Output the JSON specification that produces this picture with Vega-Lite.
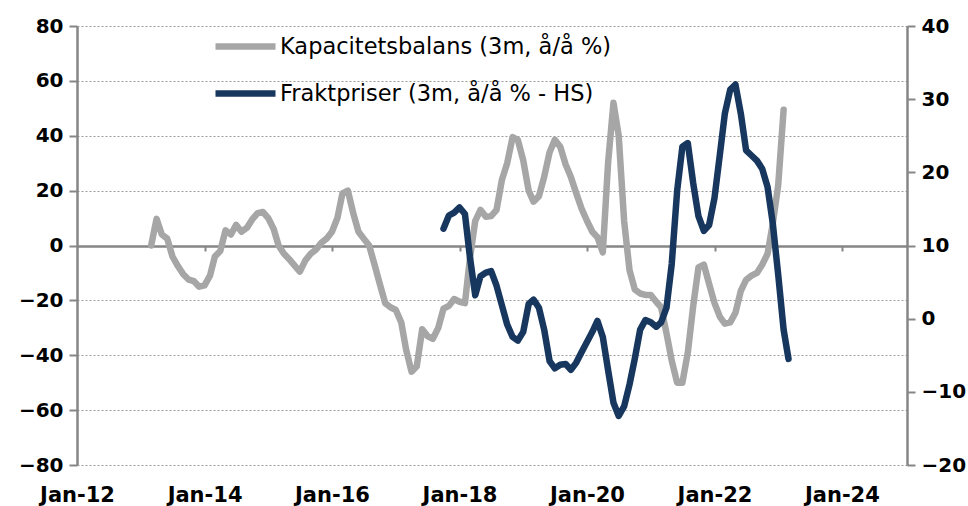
{
  "$schema": "https://vega.github.io/schema/vega-lite/v6.json",
  "autosize": {"type": "none"},
  "width": 830,
  "height": 439,
  "padding": {"left": 77, "top": 26, "right": 61, "bottom": 41},
  "background": "white",
  "config": {"view": {"stroke": null}, "font": "DejaVu Sans"},
  "datasets": {
    "kap": [
      {"date": "2013-03-01", "value": 0, "serie": "Kapacitetsbalans (3m, å/å %)"},
      {"date": "2013-04-01", "value": 9.7, "serie": "Kapacitetsbalans (3m, å/å %)"},
      {"date": "2013-05-01", "value": 4, "serie": "Kapacitetsbalans (3m, å/å %)"},
      {"date": "2013-06-01", "value": 2.5, "serie": "Kapacitetsbalans (3m, å/å %)"},
      {"date": "2013-07-01", "value": -4, "serie": "Kapacitetsbalans (3m, å/å %)"},
      {"date": "2013-08-01", "value": -7.5, "serie": "Kapacitetsbalans (3m, å/å %)"},
      {"date": "2013-09-01", "value": -10.5, "serie": "Kapacitetsbalans (3m, å/å %)"},
      {"date": "2013-10-01", "value": -12.4, "serie": "Kapacitetsbalans (3m, å/å %)"},
      {"date": "2013-11-01", "value": -13, "serie": "Kapacitetsbalans (3m, å/å %)"},
      {"date": "2013-12-01", "value": -15, "serie": "Kapacitetsbalans (3m, å/å %)"},
      {"date": "2014-01-01", "value": -14.5, "serie": "Kapacitetsbalans (3m, å/å %)"},
      {"date": "2014-02-01", "value": -11, "serie": "Kapacitetsbalans (3m, å/å %)"},
      {"date": "2014-03-01", "value": -4, "serie": "Kapacitetsbalans (3m, å/å %)"},
      {"date": "2014-04-01", "value": -2, "serie": "Kapacitetsbalans (3m, å/å %)"},
      {"date": "2014-05-01", "value": 5.5, "serie": "Kapacitetsbalans (3m, å/å %)"},
      {"date": "2014-06-01", "value": 4, "serie": "Kapacitetsbalans (3m, å/å %)"},
      {"date": "2014-07-01", "value": 7.5, "serie": "Kapacitetsbalans (3m, å/å %)"},
      {"date": "2014-08-01", "value": 5, "serie": "Kapacitetsbalans (3m, å/å %)"},
      {"date": "2014-09-01", "value": 6.5, "serie": "Kapacitetsbalans (3m, å/å %)"},
      {"date": "2014-10-01", "value": 9.5, "serie": "Kapacitetsbalans (3m, å/å %)"},
      {"date": "2014-11-01", "value": 11.8, "serie": "Kapacitetsbalans (3m, å/å %)"},
      {"date": "2014-12-01", "value": 12.2, "serie": "Kapacitetsbalans (3m, å/å %)"},
      {"date": "2015-01-01", "value": 10, "serie": "Kapacitetsbalans (3m, å/å %)"},
      {"date": "2015-02-01", "value": 6, "serie": "Kapacitetsbalans (3m, å/å %)"},
      {"date": "2015-03-01", "value": 0, "serie": "Kapacitetsbalans (3m, å/å %)"},
      {"date": "2015-04-01", "value": -3, "serie": "Kapacitetsbalans (3m, å/å %)"},
      {"date": "2015-05-01", "value": -5, "serie": "Kapacitetsbalans (3m, å/å %)"},
      {"date": "2015-06-01", "value": -7.3, "serie": "Kapacitetsbalans (3m, å/å %)"},
      {"date": "2015-07-01", "value": -9.5, "serie": "Kapacitetsbalans (3m, å/å %)"},
      {"date": "2015-08-01", "value": -5.5, "serie": "Kapacitetsbalans (3m, å/å %)"},
      {"date": "2015-09-01", "value": -3, "serie": "Kapacitetsbalans (3m, å/å %)"},
      {"date": "2015-10-01", "value": -1.5, "serie": "Kapacitetsbalans (3m, å/å %)"},
      {"date": "2015-11-01", "value": 1, "serie": "Kapacitetsbalans (3m, å/å %)"},
      {"date": "2015-12-01", "value": 2.5, "serie": "Kapacitetsbalans (3m, å/å %)"},
      {"date": "2016-01-01", "value": 5, "serie": "Kapacitetsbalans (3m, å/å %)"},
      {"date": "2016-02-01", "value": 10, "serie": "Kapacitetsbalans (3m, å/å %)"},
      {"date": "2016-03-01", "value": 19, "serie": "Kapacitetsbalans (3m, å/å %)"},
      {"date": "2016-04-01", "value": 20, "serie": "Kapacitetsbalans (3m, å/å %)"},
      {"date": "2016-05-01", "value": 12, "serie": "Kapacitetsbalans (3m, å/å %)"},
      {"date": "2016-06-01", "value": 5, "serie": "Kapacitetsbalans (3m, å/å %)"},
      {"date": "2016-07-01", "value": 2.5, "serie": "Kapacitetsbalans (3m, å/å %)"},
      {"date": "2016-08-01", "value": 0, "serie": "Kapacitetsbalans (3m, å/å %)"},
      {"date": "2016-09-01", "value": -7, "serie": "Kapacitetsbalans (3m, å/å %)"},
      {"date": "2016-10-01", "value": -14, "serie": "Kapacitetsbalans (3m, å/å %)"},
      {"date": "2016-11-01", "value": -21, "serie": "Kapacitetsbalans (3m, å/å %)"},
      {"date": "2016-12-01", "value": -22.5, "serie": "Kapacitetsbalans (3m, å/å %)"},
      {"date": "2017-01-01", "value": -23.5, "serie": "Kapacitetsbalans (3m, å/å %)"},
      {"date": "2017-02-01", "value": -28, "serie": "Kapacitetsbalans (3m, å/å %)"},
      {"date": "2017-03-01", "value": -38, "serie": "Kapacitetsbalans (3m, å/å %)"},
      {"date": "2017-04-01", "value": -46, "serie": "Kapacitetsbalans (3m, å/å %)"},
      {"date": "2017-05-01", "value": -44, "serie": "Kapacitetsbalans (3m, å/å %)"},
      {"date": "2017-06-01", "value": -30.5, "serie": "Kapacitetsbalans (3m, å/å %)"},
      {"date": "2017-07-01", "value": -33, "serie": "Kapacitetsbalans (3m, å/å %)"},
      {"date": "2017-08-01", "value": -34, "serie": "Kapacitetsbalans (3m, å/å %)"},
      {"date": "2017-09-01", "value": -30, "serie": "Kapacitetsbalans (3m, å/å %)"},
      {"date": "2017-10-01", "value": -23, "serie": "Kapacitetsbalans (3m, å/å %)"},
      {"date": "2017-11-01", "value": -22, "serie": "Kapacitetsbalans (3m, å/å %)"},
      {"date": "2017-12-01", "value": -19.5, "serie": "Kapacitetsbalans (3m, å/å %)"},
      {"date": "2018-01-01", "value": -20.5, "serie": "Kapacitetsbalans (3m, å/å %)"},
      {"date": "2018-02-01", "value": -21, "serie": "Kapacitetsbalans (3m, å/å %)"},
      {"date": "2018-03-01", "value": -5, "serie": "Kapacitetsbalans (3m, å/å %)"},
      {"date": "2018-04-01", "value": 9, "serie": "Kapacitetsbalans (3m, å/å %)"},
      {"date": "2018-05-01", "value": 13, "serie": "Kapacitetsbalans (3m, å/å %)"},
      {"date": "2018-06-01", "value": 10.5, "serie": "Kapacitetsbalans (3m, å/å %)"},
      {"date": "2018-07-01", "value": 10.7, "serie": "Kapacitetsbalans (3m, å/å %)"},
      {"date": "2018-08-01", "value": 13, "serie": "Kapacitetsbalans (3m, å/å %)"},
      {"date": "2018-09-01", "value": 24, "serie": "Kapacitetsbalans (3m, å/å %)"},
      {"date": "2018-10-01", "value": 30, "serie": "Kapacitetsbalans (3m, å/å %)"},
      {"date": "2018-11-01", "value": 39.5, "serie": "Kapacitetsbalans (3m, å/å %)"},
      {"date": "2018-12-01", "value": 38.5, "serie": "Kapacitetsbalans (3m, å/å %)"},
      {"date": "2019-01-01", "value": 31, "serie": "Kapacitetsbalans (3m, å/å %)"},
      {"date": "2019-02-01", "value": 20, "serie": "Kapacitetsbalans (3m, å/å %)"},
      {"date": "2019-03-01", "value": 16, "serie": "Kapacitetsbalans (3m, å/å %)"},
      {"date": "2019-04-01", "value": 18, "serie": "Kapacitetsbalans (3m, å/å %)"},
      {"date": "2019-05-01", "value": 25, "serie": "Kapacitetsbalans (3m, å/å %)"},
      {"date": "2019-06-01", "value": 34, "serie": "Kapacitetsbalans (3m, å/å %)"},
      {"date": "2019-07-01", "value": 38.5, "serie": "Kapacitetsbalans (3m, å/å %)"},
      {"date": "2019-08-01", "value": 36, "serie": "Kapacitetsbalans (3m, å/å %)"},
      {"date": "2019-09-01", "value": 29.5, "serie": "Kapacitetsbalans (3m, å/å %)"},
      {"date": "2019-10-01", "value": 25, "serie": "Kapacitetsbalans (3m, å/å %)"},
      {"date": "2019-11-01", "value": 19, "serie": "Kapacitetsbalans (3m, å/å %)"},
      {"date": "2019-12-01", "value": 13.5, "serie": "Kapacitetsbalans (3m, å/å %)"},
      {"date": "2020-01-01", "value": 9, "serie": "Kapacitetsbalans (3m, å/å %)"},
      {"date": "2020-02-01", "value": 5, "serie": "Kapacitetsbalans (3m, å/å %)"},
      {"date": "2020-03-01", "value": 3, "serie": "Kapacitetsbalans (3m, å/å %)"},
      {"date": "2020-04-01", "value": -2.5, "serie": "Kapacitetsbalans (3m, å/å %)"},
      {"date": "2020-05-01", "value": 30, "serie": "Kapacitetsbalans (3m, å/å %)"},
      {"date": "2020-06-01", "value": 52, "serie": "Kapacitetsbalans (3m, å/å %)"},
      {"date": "2020-07-01", "value": 40, "serie": "Kapacitetsbalans (3m, å/å %)"},
      {"date": "2020-08-01", "value": 9, "serie": "Kapacitetsbalans (3m, å/å %)"},
      {"date": "2020-09-01", "value": -9, "serie": "Kapacitetsbalans (3m, å/å %)"},
      {"date": "2020-10-01", "value": -16, "serie": "Kapacitetsbalans (3m, å/å %)"},
      {"date": "2020-11-01", "value": -17.5, "serie": "Kapacitetsbalans (3m, å/å %)"},
      {"date": "2020-12-01", "value": -18, "serie": "Kapacitetsbalans (3m, å/å %)"},
      {"date": "2021-01-01", "value": -18, "serie": "Kapacitetsbalans (3m, å/å %)"},
      {"date": "2021-02-01", "value": -20.5, "serie": "Kapacitetsbalans (3m, å/å %)"},
      {"date": "2021-03-01", "value": -22.5, "serie": "Kapacitetsbalans (3m, å/å %)"},
      {"date": "2021-04-01", "value": -32, "serie": "Kapacitetsbalans (3m, å/å %)"},
      {"date": "2021-05-01", "value": -42, "serie": "Kapacitetsbalans (3m, å/å %)"},
      {"date": "2021-06-01", "value": -50, "serie": "Kapacitetsbalans (3m, å/å %)"},
      {"date": "2021-07-01", "value": -50, "serie": "Kapacitetsbalans (3m, å/å %)"},
      {"date": "2021-08-01", "value": -39, "serie": "Kapacitetsbalans (3m, å/å %)"},
      {"date": "2021-09-01", "value": -22, "serie": "Kapacitetsbalans (3m, å/å %)"},
      {"date": "2021-10-01", "value": -8, "serie": "Kapacitetsbalans (3m, å/å %)"},
      {"date": "2021-11-01", "value": -7, "serie": "Kapacitetsbalans (3m, å/å %)"},
      {"date": "2021-12-01", "value": -14, "serie": "Kapacitetsbalans (3m, å/å %)"},
      {"date": "2022-01-01", "value": -21, "serie": "Kapacitetsbalans (3m, å/å %)"},
      {"date": "2022-02-01", "value": -26, "serie": "Kapacitetsbalans (3m, å/å %)"},
      {"date": "2022-03-01", "value": -28.5, "serie": "Kapacitetsbalans (3m, å/å %)"},
      {"date": "2022-04-01", "value": -28, "serie": "Kapacitetsbalans (3m, å/å %)"},
      {"date": "2022-05-01", "value": -24.5, "serie": "Kapacitetsbalans (3m, å/å %)"},
      {"date": "2022-06-01", "value": -16.5, "serie": "Kapacitetsbalans (3m, å/å %)"},
      {"date": "2022-07-01", "value": -12.5, "serie": "Kapacitetsbalans (3m, å/å %)"},
      {"date": "2022-08-01", "value": -11, "serie": "Kapacitetsbalans (3m, å/å %)"},
      {"date": "2022-09-01", "value": -10, "serie": "Kapacitetsbalans (3m, å/å %)"},
      {"date": "2022-10-01", "value": -7, "serie": "Kapacitetsbalans (3m, å/å %)"},
      {"date": "2022-11-01", "value": -3, "serie": "Kapacitetsbalans (3m, å/å %)"},
      {"date": "2022-12-01", "value": 8, "serie": "Kapacitetsbalans (3m, å/å %)"},
      {"date": "2023-01-01", "value": 22, "serie": "Kapacitetsbalans (3m, å/å %)"},
      {"date": "2023-02-01", "value": 49.5, "serie": "Kapacitetsbalans (3m, å/å %)"}
    ],
    "frakt": [
      {"date": "2017-10-01", "value": 12.3, "serie": "Fraktpriser (3m, å/å % - HS)"},
      {"date": "2017-11-01", "value": 14.1, "serie": "Fraktpriser (3m, å/å % - HS)"},
      {"date": "2017-12-01", "value": 14.5, "serie": "Fraktpriser (3m, å/å % - HS)"},
      {"date": "2018-01-01", "value": 15.2, "serie": "Fraktpriser (3m, å/å % - HS)"},
      {"date": "2018-02-01", "value": 14.3, "serie": "Fraktpriser (3m, å/å % - HS)"},
      {"date": "2018-03-01", "value": 8.5, "serie": "Fraktpriser (3m, å/å % - HS)"},
      {"date": "2018-04-01", "value": 3.2, "serie": "Fraktpriser (3m, å/å % - HS)"},
      {"date": "2018-05-01", "value": 5.8, "serie": "Fraktpriser (3m, å/å % - HS)"},
      {"date": "2018-06-01", "value": 6.3, "serie": "Fraktpriser (3m, å/å % - HS)"},
      {"date": "2018-07-01", "value": 6.5, "serie": "Fraktpriser (3m, å/å % - HS)"},
      {"date": "2018-08-01", "value": 4.5, "serie": "Fraktpriser (3m, å/å % - HS)"},
      {"date": "2018-09-01", "value": 1.8, "serie": "Fraktpriser (3m, å/å % - HS)"},
      {"date": "2018-10-01", "value": -0.8, "serie": "Fraktpriser (3m, å/å % - HS)"},
      {"date": "2018-11-01", "value": -2.5, "serie": "Fraktpriser (3m, å/å % - HS)"},
      {"date": "2018-12-01", "value": -3, "serie": "Fraktpriser (3m, å/å % - HS)"},
      {"date": "2019-01-01", "value": -1.8, "serie": "Fraktpriser (3m, å/å % - HS)"},
      {"date": "2019-02-01", "value": 2, "serie": "Fraktpriser (3m, å/å % - HS)"},
      {"date": "2019-03-01", "value": 2.6, "serie": "Fraktpriser (3m, å/å % - HS)"},
      {"date": "2019-04-01", "value": 1.5, "serie": "Fraktpriser (3m, å/å % - HS)"},
      {"date": "2019-05-01", "value": -1.5, "serie": "Fraktpriser (3m, å/å % - HS)"},
      {"date": "2019-06-01", "value": -5.8, "serie": "Fraktpriser (3m, å/å % - HS)"},
      {"date": "2019-07-01", "value": -6.8, "serie": "Fraktpriser (3m, å/å % - HS)"},
      {"date": "2019-08-01", "value": -6.3, "serie": "Fraktpriser (3m, å/å % - HS)"},
      {"date": "2019-09-01", "value": -6.2, "serie": "Fraktpriser (3m, å/å % - HS)"},
      {"date": "2019-10-01", "value": -7, "serie": "Fraktpriser (3m, å/å % - HS)"},
      {"date": "2019-11-01", "value": -6, "serie": "Fraktpriser (3m, å/å % - HS)"},
      {"date": "2019-12-01", "value": -4.6, "serie": "Fraktpriser (3m, å/å % - HS)"},
      {"date": "2020-01-01", "value": -3.2, "serie": "Fraktpriser (3m, å/å % - HS)"},
      {"date": "2020-02-01", "value": -1.8, "serie": "Fraktpriser (3m, å/å % - HS)"},
      {"date": "2020-03-01", "value": -0.3, "serie": "Fraktpriser (3m, å/å % - HS)"},
      {"date": "2020-04-01", "value": -2.5, "serie": "Fraktpriser (3m, å/å % - HS)"},
      {"date": "2020-05-01", "value": -7, "serie": "Fraktpriser (3m, å/å % - HS)"},
      {"date": "2020-06-01", "value": -11.5, "serie": "Fraktpriser (3m, å/å % - HS)"},
      {"date": "2020-07-01", "value": -13.3, "serie": "Fraktpriser (3m, å/å % - HS)"},
      {"date": "2020-08-01", "value": -12, "serie": "Fraktpriser (3m, å/å % - HS)"},
      {"date": "2020-09-01", "value": -9, "serie": "Fraktpriser (3m, å/å % - HS)"},
      {"date": "2020-10-01", "value": -5.5, "serie": "Fraktpriser (3m, å/å % - HS)"},
      {"date": "2020-11-01", "value": -1.5, "serie": "Fraktpriser (3m, å/å % - HS)"},
      {"date": "2020-12-01", "value": -0.2, "serie": "Fraktpriser (3m, å/å % - HS)"},
      {"date": "2021-01-01", "value": -0.5, "serie": "Fraktpriser (3m, å/å % - HS)"},
      {"date": "2021-02-01", "value": -1.1, "serie": "Fraktpriser (3m, å/å % - HS)"},
      {"date": "2021-03-01", "value": -0.5, "serie": "Fraktpriser (3m, å/å % - HS)"},
      {"date": "2021-04-01", "value": 1.5, "serie": "Fraktpriser (3m, å/å % - HS)"},
      {"date": "2021-05-01", "value": 7.5, "serie": "Fraktpriser (3m, å/å % - HS)"},
      {"date": "2021-06-01", "value": 17.5, "serie": "Fraktpriser (3m, å/å % - HS)"},
      {"date": "2021-07-01", "value": 23.5, "serie": "Fraktpriser (3m, å/å % - HS)"},
      {"date": "2021-08-01", "value": 24, "serie": "Fraktpriser (3m, å/å % - HS)"},
      {"date": "2021-09-01", "value": 18.5, "serie": "Fraktpriser (3m, å/å % - HS)"},
      {"date": "2021-10-01", "value": 14, "serie": "Fraktpriser (3m, å/å % - HS)"},
      {"date": "2021-11-01", "value": 12, "serie": "Fraktpriser (3m, å/å % - HS)"},
      {"date": "2021-12-01", "value": 12.8, "serie": "Fraktpriser (3m, å/å % - HS)"},
      {"date": "2022-01-01", "value": 16.5, "serie": "Fraktpriser (3m, å/å % - HS)"},
      {"date": "2022-02-01", "value": 22.5, "serie": "Fraktpriser (3m, å/å % - HS)"},
      {"date": "2022-03-01", "value": 28, "serie": "Fraktpriser (3m, å/å % - HS)"},
      {"date": "2022-04-01", "value": 31.3, "serie": "Fraktpriser (3m, å/å % - HS)"},
      {"date": "2022-05-01", "value": 32, "serie": "Fraktpriser (3m, å/å % - HS)"},
      {"date": "2022-06-01", "value": 28, "serie": "Fraktpriser (3m, å/å % - HS)"},
      {"date": "2022-07-01", "value": 23, "serie": "Fraktpriser (3m, å/å % - HS)"},
      {"date": "2022-08-01", "value": 22.3, "serie": "Fraktpriser (3m, å/å % - HS)"},
      {"date": "2022-09-01", "value": 21.6, "serie": "Fraktpriser (3m, å/å % - HS)"},
      {"date": "2022-10-01", "value": 20.5, "serie": "Fraktpriser (3m, å/å % - HS)"},
      {"date": "2022-11-01", "value": 18, "serie": "Fraktpriser (3m, å/å % - HS)"},
      {"date": "2022-12-01", "value": 13, "serie": "Fraktpriser (3m, å/å % - HS)"},
      {"date": "2023-01-01", "value": 6, "serie": "Fraktpriser (3m, å/å % - HS)"},
      {"date": "2023-02-01", "value": -1.5, "serie": "Fraktpriser (3m, å/å % - HS)"},
      {"date": "2023-03-01", "value": -5.5, "serie": "Fraktpriser (3m, å/å % - HS)"}
    ]
  },
  "layer": [
    {
      "data": {"name": "kap"},
      "mark": {"type": "line", "strokeWidth": 6.5, "strokeJoin": "round", "strokeCap": "round"},
      "encoding": {
        "x": {
          "field": "date", "type": "temporal",
          "scale": {"domain": [{"year": 2012, "month": 1, "date": 1}, {"year": 2025, "month": 1, "date": 8}]},
          "axis": {
            "orient": "bottom", "title": null, "domain": false, "ticks": false, "grid": false,
            "values": [{"year": 2012, "month": 1, "date": 1}, {"year": 2014, "month": 1, "date": 1}, {"year": 2016, "month": 1, "date": 1}, {"year": 2018, "month": 1, "date": 1}, {"year": 2020, "month": 1, "date": 1}, {"year": 2022, "month": 1, "date": 1}, {"year": 2024, "month": 1, "date": 1}],
            "format": "%b-%y", "labelFontSize": 21, "labelFontWeight": "bold", "labelColor": "#000000",
            "labelPadding": 19, "labelFlush": false, "labelOverlap": false
          }
        },
        "y": {
          "field": "value", "type": "quantitative",
          "scale": {"domain": [-80, 80], "nice": false, "zero": false},
          "axis": {
            "orient": "left", "title": null, "values": [-80, -60, -40, -20, 0, 20, 40, 60, 80],
            "grid": true, "gridColor": "#9a9a9a", "gridDash": [2, 2], "gridWidth": 1,
            "domainColor": "#868686", "domainWidth": 2.5, "tickColor": "#868686", "tickWidth": 2, "tickSize": 8,
            "labelFontSize": 20, "labelFontWeight": "bold", "labelColor": "#000000", "labelPadding": 6
          }
        },
        "color": {
          "field": "serie", "type": "nominal",
          "scale": {"domain": ["Kapacitetsbalans (3m, å/å %)", "Fraktpriser (3m, å/å % - HS)"], "range": ["#A6A6A6", "#17375E"]},
          "legend": {
            "orient": "none", "legendX": 135, "legendY": -13, "title": null, "padding": 0,
            "symbolType": "stroke", "symbolSize": 3600, "symbolStrokeWidth": 6.5,
            "labelFontSize": 22.5, "labelFont": "DejaVu Sans", "labelColor": "#000000", "labelOffset": 1,
            "rowPadding": 0, "labelLimit": 500
          }
        }
      }
    },
    {
      "data": {"name": "frakt"},
      "mark": {"type": "line", "strokeWidth": 6.5, "strokeJoin": "round", "strokeCap": "round"},
      "encoding": {
        "x": {
          "field": "date", "type": "temporal",
          "axis": {
            "orient": "bottom", "title": null, "labels": false, "grid": false, "offset": -219,
            "domain": true, "domainColor": "#868686", "domainWidth": 2.5,
            "ticks": true, "tickColor": "#868686", "tickWidth": 2, "tickSize": 5,
            "values": [{"year": 2014, "month": 1, "date": 1}, {"year": 2016, "month": 1, "date": 1}, {"year": 2018, "month": 1, "date": 1}, {"year": 2020, "month": 1, "date": 1}, {"year": 2022, "month": 1, "date": 1}, {"year": 2024, "month": 1, "date": 1}]
          }
        },
        "y": {
          "field": "value", "type": "quantitative",
          "scale": {"domain": [-20, 40], "nice": false, "zero": false},
          "axis": {
            "orient": "right", "title": null, "values": [-20, -10, 0, 10, 20, 30, 40], "grid": false,
            "domainColor": "#868686", "domainWidth": 2.5, "tickColor": "#868686", "tickWidth": 2, "tickSize": 8,
            "labelFontSize": 20, "labelFontWeight": "bold", "labelColor": "#000000", "labelPadding": 6
          }
        },
        "color": {"field": "serie", "type": "nominal"}
      }
    }
  ],
  "resolve": {"scale": {"y": "independent"}, "axis": {"x": "independent"}}
}
